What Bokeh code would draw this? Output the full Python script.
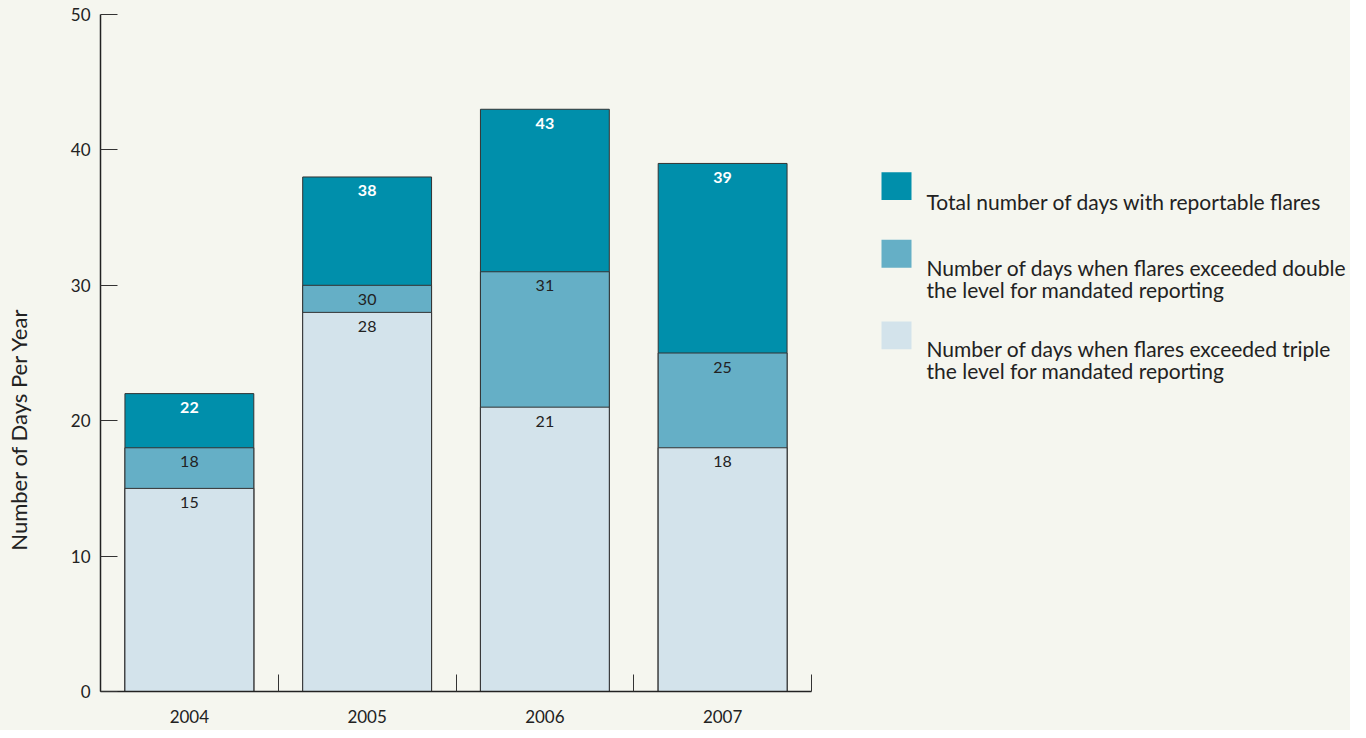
import math
from bokeh.plotting import figure
from bokeh.models import FixedTicker, Range1d
from bokeh.layouts import row
from bokeh.embed import file_html
from bokeh.resources import INLINE
from bokeh.core.properties import value

# ---- data ----
years = ["2004", "2005", "2006", "2007"]
total_days = [22, 38, 43, 39]
double_days = [18, 30, 31, 25]
triple_days = [15, 28, 21, 18]
y_ticks = [0, 10, 20, 30, 40, 50]
series_names = [
    "Total number of days with reportable flares",
    "Number of days when flares exceeded double\nthe level for mandated reporting",
    "Number of days when flares exceeded triple\nthe level for mandated reporting",
]
y_title = "Number of Days Per Year"

# ---- style ----
colors = ["#008fab", "#65afc6", "#d3e3eb"]
BG = "#f5f6ef"
FONT = "Lato"
TXT = "#222222"
H = 730


def blank(fig):
    fig.background_fill_color = BG
    fig.border_fill_color = BG
    fig.outline_line_color = None
    fig.axis.visible = False
    fig.grid.visible = False


# ---- y title panel ----
lp = figure(width=40, height=H, x_range=Range1d(0, 40), y_range=Range1d(H, 0),
            output_backend="svg", toolbar_location=None, min_border=0)
blank(lp)
lp.text(x=[18], y=[447], text=[y_title], angle=math.pi / 2, text_align="center",
        text_baseline="middle", text_font=value(FONT), text_font_size="22px",
        text_color=TXT)

# ---- main chart ----
n = len(years)
xs = [i + 0.5 for i in range(n)]

p = figure(width=781, height=H, x_range=Range1d(0, n), y_range=Range1d(0, 50),
           output_backend="svg", toolbar_location=None,
           min_border_left=60, min_border_right=10, min_border_top=14, min_border_bottom=39)
p.background_fill_color = BG
p.border_fill_color = BG
p.outline_line_color = None
p.grid.visible = False

series_vals = [total_days, double_days, triple_days]
for vals, c in zip(series_vals, colors):
    p.vbar(x=xs, top=vals, bottom=0, width=0.725, fill_color=c,
           line_color="#333333", line_width=1)
for idx, vals in enumerate(series_vals):
    p.text(x=xs, y=vals, text=[str(v) for v in vals], text_align="center",
           text_baseline="middle", y_offset=14,
           text_color="white" if idx == 0 else TXT,
           text_font_style="bold" if idx == 0 else "normal",
           text_font=value(FONT), text_font_size="16px")

xa = p.xaxis[0]
xa.ticker = FixedTicker(ticks=xs, minor_ticks=list(range(n + 1)))
xa.major_label_overrides = {x: y for x, y in zip(xs, years)}
xa.major_tick_in = 0
xa.major_tick_out = 0
xa.minor_tick_in = 17
xa.minor_tick_out = 0
xa.minor_tick_line_color = "#333333"
xa.axis_line_color = "#222222"
xa.axis_line_width = 1.5
xa.major_label_standoff = 18
xa.major_label_text_font = FONT
xa.major_label_text_font_size = "17px"
xa.major_label_text_color = TXT

ya = p.yaxis[0]
ya.ticker = FixedTicker(ticks=y_ticks)
ya.major_tick_in = 17
ya.major_tick_out = 0
ya.minor_tick_in = 0
ya.minor_tick_out = 0
ya.major_tick_line_color = "#333333"
ya.axis_line_color = "#222222"
ya.axis_line_width = 1.5
ya.major_label_standoff = 10
ya.major_label_text_font = FONT
ya.major_label_text_font_size = "17px"
ya.major_label_text_color = TXT

# ---- legend panel ----
LW = 529
LX0 = 821
lg = figure(width=LW, height=H, x_range=Range1d(LX0, LX0 + LW), y_range=Range1d(H, 0),
            output_backend="svg", toolbar_location=None, min_border=0)
blank(lg)

sq_tops = [170, 243, 331]
first_baselines = [202, 273, 360]
lg.quad(left=881, right=911, top=sq_tops, bottom=[t + 30 for t in sq_tops],
        fill_color=colors, line_color=None)
tx, ty, tt = [], [], []
for name, b in zip(series_names, first_baselines):
    for k, line in enumerate(name.split("\n")):
        tx.append(926)
        ty.append(b + 24 * k)
        tt.append(line)
lg.text(x=tx, y=ty, text=tt, text_align="left", text_baseline="alphabetic",
        text_font=value(FONT), text_font_size="21px", text_color=TXT)

layout = row(lp, p, lg, styles={"background-color": BG})
open("out.html", "w").write(file_html(layout, INLINE))
